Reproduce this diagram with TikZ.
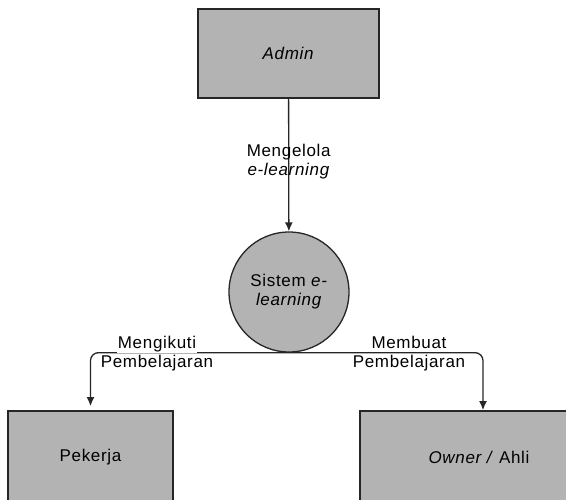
\documentclass[tikz,border=0pt]{standalone}
\usepackage{fontspec}
\setmainfont{Liberation Sans}[LetterSpace=4]
\usetikzlibrary{positioning,
        arrows.meta}
\usepackage{xcolor}
\definecolor{boxgray}{HTML}{B3B3B3}
\definecolor{edgegray}{HTML}{262626}
\setlength{\fboxsep}{1pt}

\begin{document}
\begin{tikzpicture}[x=1pt,y=-1pt,
        font=\fontsize{17}{19}\selectfont,
        entity/.style={rectangle,draw=edgegray,line width=1.8pt,fill=boxgray,inner sep=0pt},
        process/.style={circle,draw=edgegray,line width=1.3pt,fill=boxgray,minimum size=120pt,inner sep=0pt,align=center},
        flow/.style={-{Latex[length=9pt,width=8pt]},line width=1.3pt,draw=edgegray,rounded corners=8pt},
        lbl/.style={align=center,inner sep=0pt}]
            \useasboundingbox (0,0) rectangle (566,499);
            \clip (0,0) rectangle (566,499);

            \node [entity,minimum width=181pt,minimum height=89pt] (Admin) at (288.5,53.5) {\textit{Admin}};
            \node [process] (Sistem) at (289,292) {Sistem \textit{e-}\\\textit{learning}};
            \node [entity,minimum width=165pt,minimum height=92pt] (Pekerja) at (90.5,457) {Pekerja};
            \node [entity,minimum width=238pt,minimum height=92pt] (Owner) at (479,457) {\textit{Owner /} Ahli};

            \draw [flow] (Admin) -- node [lbl,pos=0.47] {Mengelola\\\textit{e-learning}} (Sistem);
            \draw [flow,shorten >=4pt] (Sistem.south) -| (Pekerja.north);
            \draw [flow] (Sistem.south) -| ([xshift=4pt]Owner.north);

            \node [lbl] (Ikut) at (157,353) {\colorbox{white}{Mengikuti}\\Pembelajaran};
            \node [lbl] (Buat) at (409,353) {\colorbox{white}{Membuat}\\Pembelajaran};
        \end{tikzpicture}
\end{document}
